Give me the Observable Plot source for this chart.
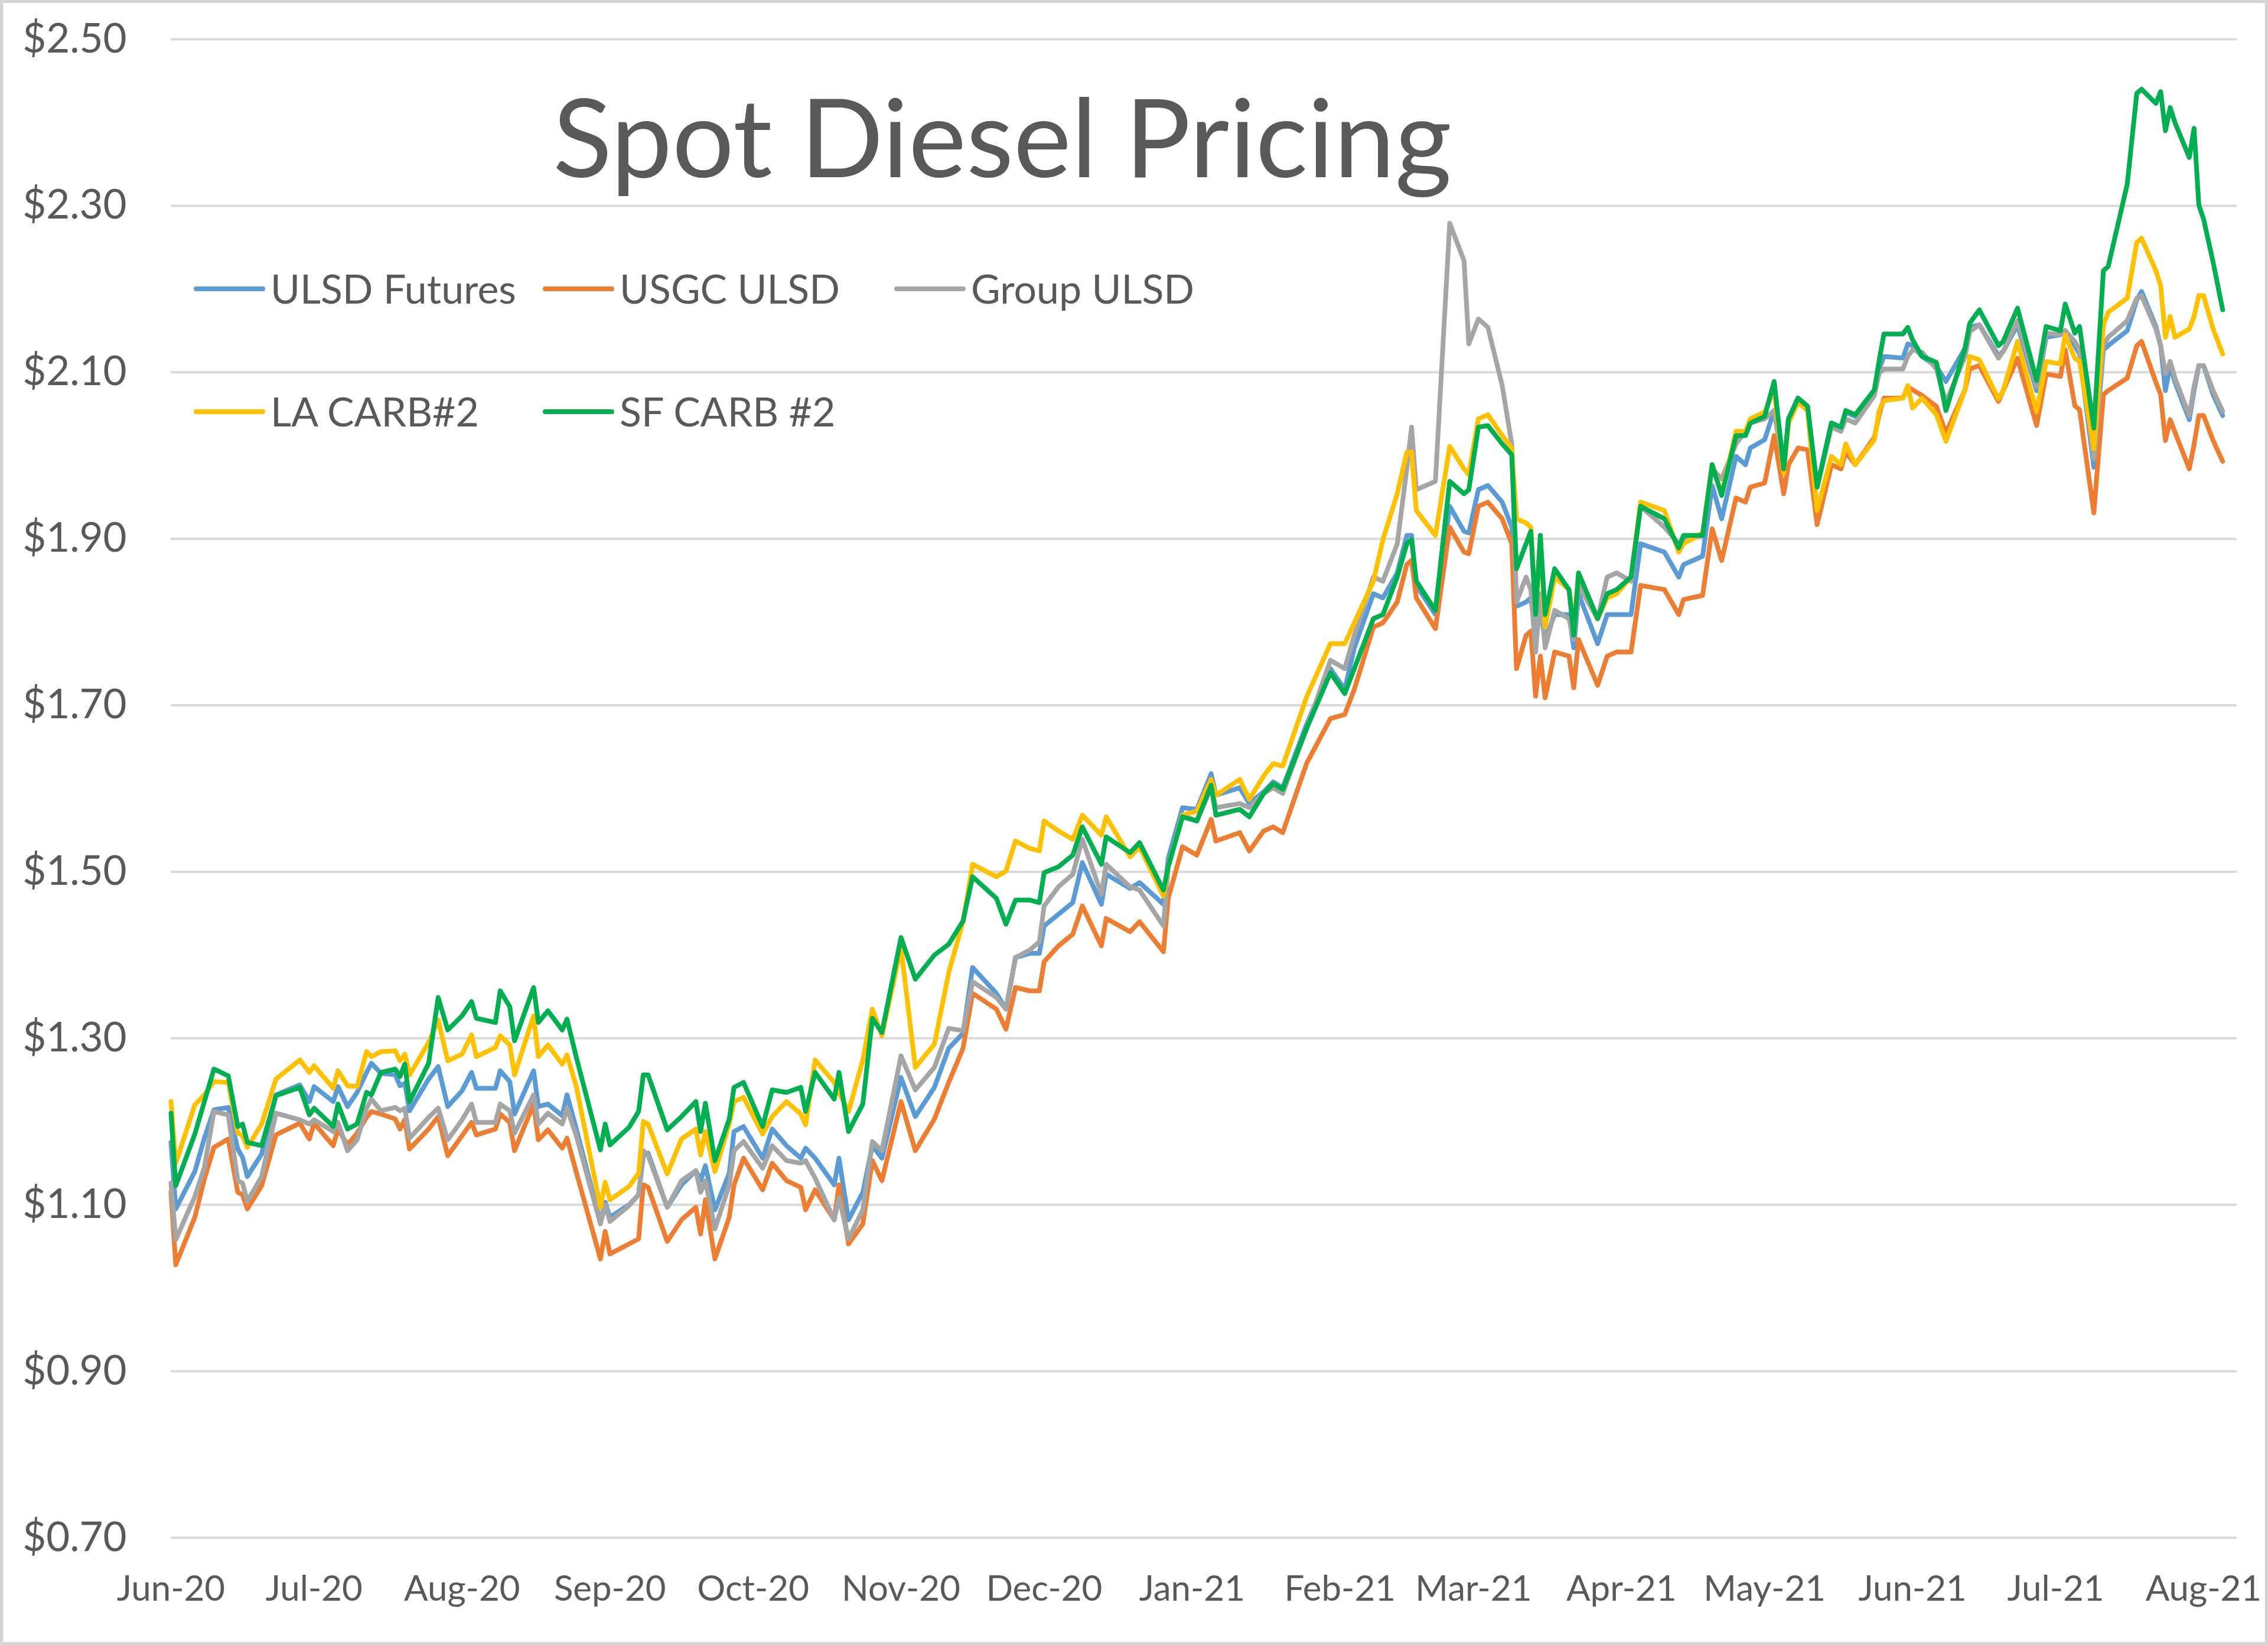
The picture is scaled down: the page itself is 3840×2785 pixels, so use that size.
<!DOCTYPE html>
<html>
<head>
<meta charset="utf-8">
<script src="https://cdn.jsdelivr.net/npm/d3@7"></script>
<script src="https://cdn.jsdelivr.net/npm/@observablehq/plot@0.6"></script>
<style>
html, body { margin: 0; padding: 0; background: #ffffff; }
#chart { position: relative; width: 3840px; height: 2785px; overflow: hidden; background: #ffffff; font-family: Lato, sans-serif; color: #595959; }
#chart svg { position: absolute; left: 0; top: 0; }
#frame { position: absolute; left: 0; top: 0; right: 0; bottom: 0; border: 5px solid #d4d4d4; pointer-events: none; }
</style>
</head>
<body>
<div id="chart"><div id="frame"></div></div>
<script>
// ---------- data ----------
const chartTitle = "Spot Diesel Pricing";
const seriesNames = ["ULSD Futures", "USGC ULSD", "Group ULSD", "LA CARB#2", "SF CARB #2"];
const seriesColors = ["#5B9BD5", "#ED7D31", "#A5A5A5", "#FFC000", "#00B050"];
const yTicks = [0.7, 0.9, 1.1, 1.3, 1.5, 1.7, 1.9, 2.1, 2.3, 2.5];
const monthTicks = ["2020-06-01","2020-07-01","2020-08-01","2020-09-01","2020-10-01","2020-11-01","2020-12-01",
  "2021-01-01","2021-02-01","2021-03-01","2021-04-01","2021-05-01","2021-06-01","2021-07-01","2021-08-01"];
const xDomain = ["2020-06-01", "2021-08-08"];

const dates = [
"2020-06-01","2020-06-02","2020-06-06","2020-06-08","2020-06-10","2020-06-13","2020-06-15","2020-06-16","2020-06-17","2020-06-20",
"2020-06-23","2020-06-28","2020-06-30","2020-07-01","2020-07-05","2020-07-06","2020-07-08","2020-07-10","2020-07-12","2020-07-13",
"2020-07-15","2020-07-18","2020-07-19","2020-07-20","2020-07-21","2020-07-25","2020-07-27","2020-07-29","2020-08-01","2020-08-03",
"2020-08-04","2020-08-08","2020-08-09","2020-08-11","2020-08-12","2020-08-16","2020-08-17","2020-08-19","2020-08-22","2020-08-23",
"2020-08-25","2020-08-30","2020-08-31","2020-09-01","2020-09-05","2020-09-07","2020-09-08","2020-09-09","2020-09-13","2020-09-16",
"2020-09-19","2020-09-20","2020-09-21","2020-09-23","2020-09-26","2020-09-27","2020-09-29","2020-10-03","2020-10-05","2020-10-08",
"2020-10-11","2020-10-12","2020-10-14","2020-10-18","2020-10-19","2020-10-21","2020-10-24","2020-10-26","2020-10-28","2020-11-01",
"2020-11-04","2020-11-08","2020-11-11","2020-11-14","2020-11-16","2020-11-21","2020-11-23","2020-11-25","2020-11-28","2020-11-30",
"2020-12-01","2020-12-04","2020-12-07","2020-12-09","2020-12-13","2020-12-14","2020-12-19","2020-12-21","2020-12-26","2020-12-27",
"2020-12-30","2021-01-02","2021-01-05","2021-01-06","2021-01-11","2021-01-13","2021-01-16","2021-01-18","2021-01-20","2021-01-25",
"2021-01-30","2021-02-02","2021-02-04","2021-02-08","2021-02-10","2021-02-13","2021-02-15","2021-02-16","2021-02-17","2021-02-21",
"2021-02-24","2021-02-27","2021-02-28","2021-03-02","2021-03-04","2021-03-07","2021-03-09","2021-03-10","2021-03-12","2021-03-13",
"2021-03-14","2021-03-15","2021-03-16","2021-03-18","2021-03-21","2021-03-22","2021-03-23","2021-03-27","2021-03-29","2021-03-31",
"2021-04-03","2021-04-05","2021-04-10","2021-04-13","2021-04-14","2021-04-18","2021-04-20","2021-04-22","2021-04-25","2021-04-27",
"2021-04-28","2021-05-01","2021-05-03","2021-05-05","2021-05-06","2021-05-08","2021-05-10","2021-05-12","2021-05-15","2021-05-17",
"2021-05-18","2021-05-20","2021-05-24","2021-05-25","2021-05-26","2021-05-30","2021-05-31","2021-06-01","2021-06-03","2021-06-06",
"2021-06-08","2021-06-12","2021-06-13","2021-06-15","2021-06-19","2021-06-20","2021-06-23","2021-06-27","2021-06-29","2021-07-02",
"2021-07-03","2021-07-05","2021-07-06","2021-07-09","2021-07-11","2021-07-12","2021-07-16","2021-07-18","2021-07-19","2021-07-22",
"2021-07-23","2021-07-24","2021-07-25","2021-07-26","2021-07-29","2021-07-30","2021-07-31","2021-08-01","2021-08-03","2021-08-05"
];

const ulsdFutures = [
1.175,1.095,1.140,1.180,1.214,1.217,1.167,1.157,1.134,1.161,
1.232,1.244,1.224,1.242,1.224,1.242,1.218,1.235,1.259,1.270,
1.258,1.256,1.243,1.246,1.213,1.251,1.266,1.218,1.237,1.259,
1.240,1.240,1.261,1.248,1.209,1.261,1.218,1.221,1.207,1.232,
1.190,1.079,1.103,1.085,1.100,1.112,1.159,1.162,1.097,1.124,
1.141,1.129,1.147,1.094,1.138,1.188,1.194,1.156,1.191,1.171,
1.156,1.168,1.156,1.124,1.156,1.082,1.115,1.171,1.156,1.253,
1.206,1.241,1.288,1.306,1.385,1.354,1.335,1.397,1.402,1.402,
1.435,1.449,1.463,1.511,1.461,1.497,1.480,1.487,1.461,1.516,
1.577,1.575,1.618,1.592,1.601,1.582,1.596,1.608,1.601,1.677,
1.744,1.719,1.769,1.834,1.829,1.859,1.904,1.904,1.844,1.809,
1.939,1.909,1.907,1.959,1.964,1.944,1.914,1.819,1.824,1.829,
1.784,1.814,1.779,1.809,1.809,1.769,1.834,1.774,1.809,1.809,
1.809,1.894,1.884,1.854,1.869,1.879,1.964,1.924,1.999,1.989,
2.009,2.019,2.054,1.984,2.044,2.069,2.059,1.962,2.039,2.034,
2.052,2.047,2.077,2.104,2.119,2.117,2.134,2.132,2.119,2.107,
2.089,2.129,2.154,2.157,2.120,2.125,2.157,2.078,2.142,2.145,
2.150,2.132,2.122,1.986,2.127,2.132,2.150,2.187,2.197,2.155,
2.132,2.078,2.108,2.088,2.043,2.078,2.108,2.108,2.073,2.048
];

const usgcUlsd = [
1.115,1.028,1.085,1.131,1.169,1.179,1.115,1.112,1.095,1.123,
1.184,1.198,1.179,1.198,1.171,1.191,1.172,1.186,1.205,1.212,
1.209,1.203,1.191,1.202,1.167,1.191,1.206,1.159,1.183,1.199,
1.184,1.191,1.209,1.199,1.165,1.221,1.178,1.190,1.168,1.180,
1.138,1.035,1.068,1.041,1.053,1.059,1.124,1.121,1.056,1.082,
1.097,1.065,1.106,1.035,1.085,1.124,1.156,1.118,1.150,1.129,
1.121,1.094,1.118,1.082,1.124,1.053,1.077,1.153,1.129,1.224,
1.165,1.203,1.247,1.288,1.354,1.335,1.311,1.361,1.357,1.357,
1.392,1.411,1.425,1.459,1.411,1.444,1.428,1.440,1.404,1.468,
1.530,1.520,1.563,1.537,1.547,1.525,1.549,1.554,1.547,1.630,
1.684,1.689,1.719,1.794,1.799,1.824,1.869,1.874,1.829,1.792,
1.914,1.884,1.882,1.939,1.944,1.924,1.894,1.744,1.784,1.789,
1.711,1.759,1.709,1.764,1.759,1.721,1.779,1.724,1.759,1.764,
1.764,1.844,1.839,1.809,1.827,1.832,1.912,1.874,1.949,1.944,
1.962,1.967,2.024,1.954,1.989,2.009,2.007,1.917,1.989,1.984,
2.004,1.989,2.022,2.049,2.069,2.069,2.082,2.079,2.072,2.059,
2.027,2.079,2.104,2.108,2.065,2.078,2.117,2.036,2.098,2.095,
2.127,2.060,2.055,1.931,2.073,2.078,2.093,2.132,2.137,2.088,
2.073,2.018,2.043,2.028,1.984,2.013,2.048,2.048,2.018,1.993
];

const groupUlsd = [
1.126,1.058,1.110,1.145,1.212,1.208,1.129,1.126,1.104,1.134,
1.210,1.202,1.197,1.202,1.188,1.199,1.165,1.178,1.216,1.227,
1.213,1.217,1.213,1.216,1.180,1.205,1.216,1.178,1.202,1.221,
1.199,1.199,1.221,1.213,1.186,1.232,1.197,1.210,1.197,1.216,
1.182,1.077,1.100,1.080,1.099,1.112,1.165,1.159,1.097,1.129,
1.141,1.115,1.129,1.071,1.124,1.165,1.176,1.144,1.171,1.153,
1.150,1.153,1.132,1.082,1.109,1.059,1.094,1.176,1.165,1.279,
1.238,1.265,1.312,1.309,1.368,1.349,1.335,1.397,1.406,1.416,
1.459,1.482,1.497,1.539,1.473,1.509,1.482,1.478,1.435,1.506,
1.568,1.561,1.601,1.577,1.582,1.577,1.594,1.601,1.594,1.672,
1.754,1.744,1.784,1.854,1.849,1.894,1.984,2.034,1.959,1.969,
2.279,2.234,2.134,2.164,2.154,2.084,2.014,1.824,1.854,1.839,
1.764,1.834,1.769,1.814,1.804,1.779,1.844,1.804,1.854,1.859,
1.849,1.939,1.914,1.894,1.899,1.904,1.984,1.972,2.014,2.029,
2.039,2.044,2.054,1.984,2.039,2.069,2.059,1.962,2.034,2.029,
2.044,2.039,2.072,2.099,2.104,2.104,2.119,2.127,2.124,2.104,
2.064,2.119,2.149,2.157,2.117,2.125,2.162,2.083,2.147,2.145,
2.150,2.137,2.127,1.996,2.132,2.142,2.162,2.189,2.192,2.152,
2.132,2.098,2.113,2.093,2.048,2.083,2.108,2.108,2.078,2.053
];

const laCarb2 = [
1.224,1.150,1.220,1.232,1.248,1.247,1.186,1.183,1.169,1.197,
1.251,1.274,1.259,1.267,1.240,1.261,1.243,1.242,1.284,1.278,
1.284,1.285,1.273,1.281,1.256,1.295,1.322,1.273,1.281,1.304,
1.278,1.289,1.303,1.292,1.256,1.327,1.278,1.292,1.269,1.280,
1.241,1.097,1.127,1.106,1.122,1.138,1.200,1.197,1.137,1.179,
1.191,1.160,1.188,1.140,1.197,1.224,1.229,1.185,1.206,1.224,
1.209,1.196,1.274,1.247,1.235,1.212,1.274,1.335,1.303,1.409,
1.265,1.293,1.379,1.440,1.509,1.494,1.501,1.537,1.528,1.525,
1.561,1.549,1.539,1.568,1.544,1.566,1.518,1.530,1.471,1.506,
1.568,1.573,1.611,1.592,1.611,1.587,1.615,1.630,1.627,1.710,
1.774,1.774,1.799,1.849,1.899,1.954,2.004,2.004,1.934,1.904,
2.011,1.984,1.977,2.044,2.049,2.024,2.009,1.924,1.919,1.914,
1.814,1.899,1.794,1.854,1.839,1.794,1.859,1.804,1.829,1.834,
1.854,1.944,1.934,1.884,1.894,1.907,1.989,1.954,2.029,2.029,
2.044,2.052,2.079,1.979,2.039,2.064,2.054,1.934,1.999,1.989,
2.014,1.989,2.019,2.054,2.066,2.069,2.084,2.057,2.069,2.049,
2.017,2.079,2.119,2.115,2.068,2.078,2.137,2.053,2.113,2.110,
2.145,2.117,2.113,2.008,2.157,2.172,2.189,2.256,2.261,2.222,
2.204,2.142,2.167,2.142,2.152,2.167,2.192,2.192,2.152,2.122
];

const sfCarb2 = [
1.210,1.123,1.185,1.224,1.263,1.255,1.194,1.197,1.175,1.171,
1.231,1.241,1.208,1.216,1.194,1.221,1.191,1.197,1.235,1.232,
1.259,1.263,1.254,1.269,1.224,1.270,1.349,1.310,1.327,1.344,
1.324,1.319,1.357,1.338,1.297,1.361,1.319,1.333,1.310,1.323,
1.276,1.166,1.197,1.172,1.193,1.212,1.256,1.256,1.190,1.206,
1.224,1.188,1.222,1.153,1.203,1.241,1.247,1.194,1.238,1.235,
1.241,1.212,1.259,1.227,1.259,1.188,1.221,1.324,1.307,1.421,
1.371,1.400,1.413,1.441,1.494,1.468,1.437,1.466,1.466,1.463,
1.499,1.506,1.520,1.554,1.509,1.542,1.523,1.535,1.478,1.506,
1.566,1.561,1.604,1.568,1.575,1.566,1.594,1.606,1.599,1.672,
1.739,1.714,1.744,1.804,1.809,1.854,1.894,1.899,1.849,1.814,
1.969,1.954,1.959,2.034,2.036,2.014,2.001,1.864,1.894,1.909,
1.809,1.904,1.809,1.864,1.839,1.784,1.859,1.804,1.834,1.839,
1.854,1.939,1.924,1.889,1.904,1.904,1.989,1.952,2.024,2.024,
2.039,2.047,2.089,1.984,2.044,2.069,2.059,1.962,2.039,2.034,
2.054,2.049,2.079,2.114,2.146,2.146,2.154,2.139,2.119,2.112,
2.054,2.129,2.159,2.175,2.132,2.137,2.177,2.090,2.155,2.150,
2.182,2.147,2.155,2.033,2.222,2.227,2.326,2.435,2.440,2.423,
2.437,2.390,2.418,2.400,2.358,2.393,2.301,2.284,2.232,2.175
];

// ---------- build ----------
const parse = d3.utcParse("%Y-%m-%d");
const seriesValues = [ulsdFutures, usgcUlsd, groupUlsd, laCarb2, sfCarb2];
const rows = seriesNames.flatMap((name, i) =>
  dates.map((d, j) => ({series: name, date: parse(d), value: seriesValues[i][j]})));

const W = 3840, H = 2785;
const chart = Plot.plot({
  width: W, height: H,
  marginTop: 66, marginBottom: 182, marginLeft: 289, marginRight: 53,
  style: {fontFamily: "Lato, sans-serif", color: "#595959", background: "transparent", overflow: "visible"},
  x: {type: "utc", domain: xDomain.map(parse)},
  y: {domain: [yTicks[0], yTicks[yTicks.length - 1]]},
  color: {domain: seriesNames, range: seriesColors},
  marks: [
    Plot.ruleY(yTicks, {stroke: "#d9d9d9", strokeWidth: 4}),
    Plot.axisY({ticks: yTicks, tickFormat: d => "$" + d.toFixed(2), tickSize: 0, tickPadding: 75,
      fontSize: 69, label: null}),
    Plot.axisX({ticks: monthTicks.map(parse), tickFormat: d3.utcFormat("%b-%y"), tickSize: 0, tickPadding: 64,
      fontSize: 60, label: null}),
    ...seriesNames.map(name => Plot.line(rows.filter(r => r.series === name), {
      x: "date", y: "value", stroke: "series", strokeWidth: 8,
      strokeLinejoin: "round", strokeLinecap: "round"
    }))
  ]
});
const host = document.getElementById("chart");
host.insertBefore(chart, host.firstChild);

// overlay: title and legend (inside the plot area, as in the reference)
const overlay = d3.select(host).append("svg")
  .attr("width", W).attr("height", H)
  .style("pointer-events", "none")
  .style("font-family", "Lato, sans-serif");

overlay.append("text")
  .attr("x", 1697).attr("y", 300)
  .attr("text-anchor", "middle")
  .attr("font-size", 185)
  .attr("fill", "#595959")
  .text(chartTitle);

const legendCols = [332, 923, 1518];
const legendRows = [489, 697];
seriesNames.forEach((name, i) => {
  const col = i < 3 ? i : i - 3;
  const row = i < 3 ? 0 : 1;
  const x0 = legendCols[col], cy = legendRows[row];
  const g = overlay.append("g");
  g.append("line").attr("x1", x0).attr("x2", x0 + 113).attr("y1", cy).attr("y2", cy)
    .attr("stroke", seriesColors[i]).attr("stroke-width", 8).attr("stroke-linecap", "round");
  g.append("text").attr("x", x0 + 126).attr("y", cy + 25)
    .attr("font-size", 68).attr("fill", "#595959").text(name);
});
</script>
</body>
</html>
